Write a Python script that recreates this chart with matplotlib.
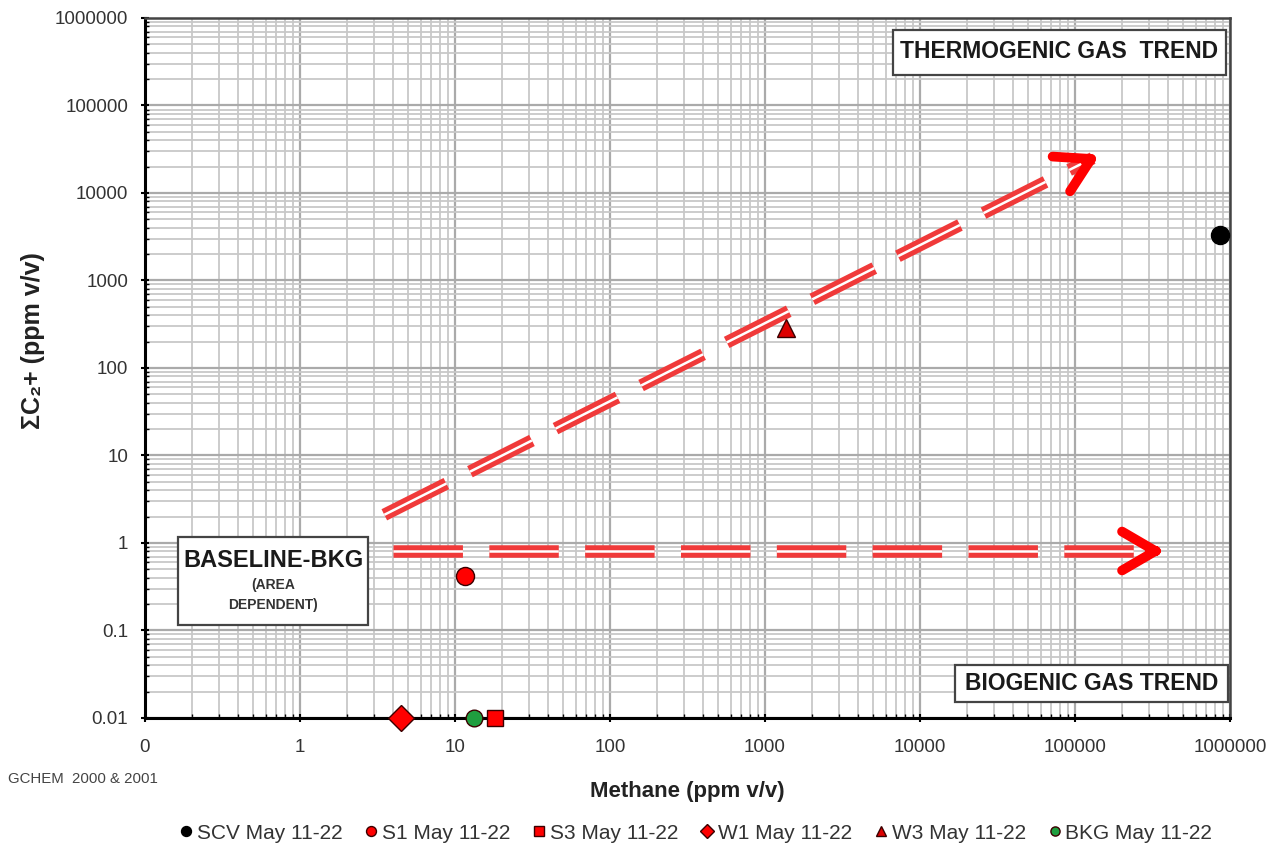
import numpy as np
import matplotlib
matplotlib.use('Agg')
import matplotlib.pyplot as plt
from matplotlib.patches import Rectangle
from matplotlib.ticker import FixedLocator, LogLocator, NullFormatter

plt.rcParams['font.family'] = ['Liberation Sans', 'DejaVu Sans']
plt.rcParams['lines.scale_dashes'] = False

# sample series (methane, sum C2+)
series_names = ['SCV May 11-22', 'S1 May 11-22', 'S3 May 11-22',
                'W1 May 11-22', 'W3 May 11-22', 'BKG May 11-22']
methane = [860000, 11.6, 18, 4.5, 1365, 13.3]
c2_plus = [3300, 0.42, 0.01, 0.01, 286, 0.01]
markers = ['o', 'o', 's', 'D', '^', 'o']
face_colors = ['#000000', '#ff0000', '#ff0000', '#ff0000', '#dd0000', '#1f9e3f']
marker_sizes = [13, 13, 12, 13, 13, 12]

# axis ticks
x_ticks = [0.1, 1, 10, 100, 1000, 10000, 100000, 1000000]
x_tick_labels = ['0', '1', '10', '100', '1000', '10000', '100000', '1000000']
y_ticks = [0.01, 0.1, 1, 10, 100, 1000, 10000, 100000, 1000000]
y_tick_labels = ['0.01', '0.1', '1', '10', '100', '1000', '10000', '100000', '1000000']

# trend arrows (start, end)
thermo_x = [3.5, 130000]
thermo_y = [2.1, 25000]
bio_x = [4.0, 340000]
bio_y = [0.81, 0.81]

arrow_red = '#f03a3a'

fig = plt.figure(figsize=(12.83, 8.57), dpi=100)
ax = fig.add_axes([0.113, 0.1622, 0.8457, 0.8168])
ax.set_xscale('log')
ax.set_yscale('log')
ax.set_xlim(0.1, 1000000)
ax.set_ylim(0.01, 1000000)

# grid
ax.xaxis.set_minor_locator(LogLocator(base=10, subs=np.arange(2, 10), numticks=20))
ax.yaxis.set_minor_locator(LogLocator(base=10, subs=np.arange(2, 10), numticks=20))
ax.xaxis.set_minor_formatter(NullFormatter())
ax.yaxis.set_minor_formatter(NullFormatter())
ax.grid(True, which='major', color='#aaaaaa', linewidth=1.6)
ax.grid(True, which='minor', color='#c8c8c8', linewidth=1.3)
ax.set_axisbelow(True)

ax.xaxis.set_major_locator(FixedLocator(x_ticks))
ax.set_xticklabels(x_tick_labels)
ax.yaxis.set_major_locator(FixedLocator(y_ticks))
ax.set_yticklabels(y_tick_labels)
ax.tick_params(which='major', direction='inout', length=6, width=1.5,
               labelsize=13.5, labelcolor='#333333')
ax.tick_params(axis='x', which='major', pad=12)
ax.tick_params(axis='y', which='major', pad=9)
ax.tick_params(which='minor', direction='in', length=3, width=1)

for side in ['left', 'bottom']:
    ax.spines[side].set_linewidth(2.2)
    ax.spines[side].set_color('black')
for side in ['top', 'right']:
    ax.spines[side].set_linewidth(1.8)
    ax.spines[side].set_color('#444444')

# trend arrows - dashed double line
def trend_arrow(xs, ys):
    ax.plot(xs, ys, color=arrow_red, lw=9, linestyle=(0, (50, 19)), zorder=3)
    ax.plot(xs, ys, color='white', lw=1.8, linestyle=(0, (50, 19)), zorder=4)
    # open chevron head
    tip = (xs[1] * (xs[1] / xs[0]) ** 0.01, ys[1] * (ys[1] / ys[0]) ** 0.01)
    back = (xs[1] * (xs[0] / xs[1]) ** 0.01, ys[1] * (ys[0] / ys[1]) ** 0.01)
    ax.annotate('', xy=tip, xytext=back,
                arrowprops=dict(arrowstyle='->,head_length=2.4,head_width=1.4',
                                color='#ff0000', lw=7, mutation_scale=10,
                                shrinkA=0, shrinkB=0, capstyle='round',
                                joinstyle='round'),
                zorder=5)

trend_arrow(thermo_x, thermo_y)
trend_arrow(bio_x, bio_y)

# data points
for i in range(len(series_names)):
    ax.plot(methane[i], c2_plus[i], marker=markers[i], linestyle='none',
            markersize=marker_sizes[i], markerfacecolor=face_colors[i],
            markeredgecolor='#3a0000' if i > 0 else 'black', markeredgewidth=1,
            label=series_names[i], clip_on=False, zorder=6)

# annotation boxes
def label_box(x0, y0, w, h):
    ax.add_patch(Rectangle((x0, y0), w, h, transform=ax.transAxes,
                           facecolor='white', edgecolor='#444444',
                           linewidth=1.6, zorder=7))

label_box(0.689, 0.9186, 0.3073, 0.0644)
ax.text(0.8425, 0.952, 'THERMOGENIC GAS  TREND', transform=ax.transAxes,
        ha='center', va='center', fontsize=16.5, fontweight='bold',
        color='#1a1a1a', zorder=8)

label_box(0.7465, 0.0229, 0.2515, 0.0528)
ax.text(0.8722, 0.049, 'BIOGENIC GAS TREND', transform=ax.transAxes,
        ha='center', va='center', fontsize=16.5, fontweight='bold',
        color='#1a1a1a', zorder=8)

label_box(0.0304, 0.133, 0.1751, 0.1256)
ax.text(0.118, 0.225, 'BASELINE-BKG', transform=ax.transAxes,
        ha='center', va='center', fontsize=17, fontweight='bold',
        color='#1a1a1a', zorder=8)
ax.text(0.118, 0.176, '(AREA\nDEPENDENT)', transform=ax.transAxes,
        ha='center', va='center', fontsize=10, fontweight='bold',
        color='#333333', linespacing=1.5, zorder=8)

ax.set_xlabel('Methane (ppm v/v)', fontsize=16, fontweight='bold',
              color='#222222', labelpad=18)
ax.set_ylabel('ΣC₂+ (ppm v/v)', fontsize=18, fontweight='bold',
              color='#222222')
ax.yaxis.set_label_coords(-0.092, 0.539)

fig.text(0.006, 0.086, 'GCHEM  2000 & 2001', fontsize=10.8, color='#444444')

fig.legend(loc='center', bbox_to_anchor=(0.5417, 0.028), ncol=6,
           frameon=False, fontsize=15, markerscale=0.55, handletextpad=0.1,
           columnspacing=1.0, handlelength=0.8, labelcolor='#333333')

fig.savefig('out.png', dpi=100)
